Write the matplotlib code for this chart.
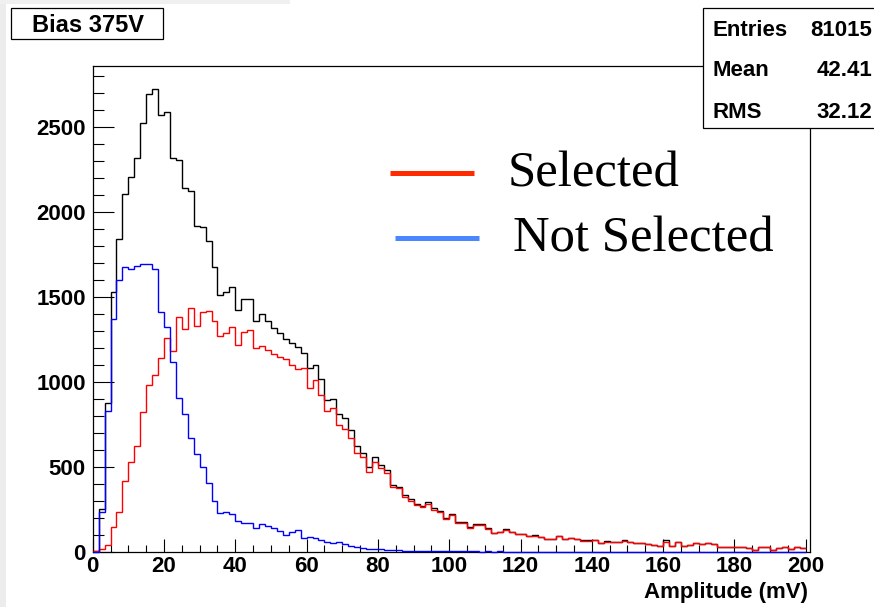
import numpy as np
import matplotlib.pyplot as plt
from matplotlib.patches import Rectangle
from matplotlib.lines import Line2D
from matplotlib.ticker import MultipleLocator

# histogram: 120 bins from 0 to 200 mV
x_min, x_max, n_bins = 0, 200, 120

# all events (black)
total = [5, 252, 875, 1528, 1839, 2104, 2204, 2316, 2525, 2694,
         2724, 2571, 2590, 2320, 2304, 2139, 2124, 1920, 1914, 1829,
         1678, 1512, 1528, 1557, 1424, 1486, 1486, 1361, 1400, 1361,
         1316, 1290, 1251, 1227, 1208, 1170, 1080, 1100, 1016, 894,
         898, 812, 786, 718, 624, 584, 502, 561, 509, 480,
         397, 382, 334, 310, 282, 271, 292, 257, 243, 198,
         223, 178, 178, 145, 165, 165, 139, 114, 120, 135,
         120, 106, 106, 94, 100, 90, 77, 77, 96, 78,
         82, 76, 69, 69, 73, 53, 63, 59, 58, 69,
         58, 53, 52, 46, 43, 38, 71, 36, 58, 35,
         42, 53, 46, 53, 48, 28, 32, 32, 28, 28,
         23, 13, 32, 32, 13, 23, 28, 17, 28, 26]

# selected events (red)
selected = [3, 15, 41, 149, 237, 420, 531, 625, 825, 982,
            1041, 1139, 1257, 1182, 1384, 1310, 1433, 1331, 1410, 1420,
            1359, 1271, 1286, 1322, 1218, 1296, 1306, 1198, 1214, 1188,
            1163, 1145, 1135, 1100, 1075, 1080, 967, 1012, 924, 831,
            845, 747, 722, 669, 580, 557, 473, 531, 492, 467,
            384, 375, 325, 302, 276, 265, 285, 250, 235, 192,
            215, 172, 172, 140, 160, 160, 135, 110, 117, 132,
            117, 104, 104, 92, 97, 88, 75, 75, 94, 76,
            80, 74, 67, 67, 71, 51, 61, 57, 57, 67,
            57, 51, 51, 45, 41, 37, 61, 35, 57, 34,
            41, 51, 45, 51, 47, 27, 31, 31, 27, 27,
            22, 12, 31, 31, 12, 22, 27, 16, 27, 25]

# not selected events (blue)
not_selected = [2, 237, 829, 1370, 1600, 1678, 1665, 1682, 1696, 1696,
                1665, 1414, 1322, 1120, 908, 810, 672, 575, 498, 404,
                299, 231, 235, 224, 182, 171, 172, 139, 165, 155,
                139, 124, 100, 120, 129, 85, 90, 85, 71, 61,
                51, 57, 47, 35, 27, 22, 20, 20, 16, 12,
                12, 10, 8, 8, 6, 6, 5, 5, 4, 4,
                5, 3, 4, 3, 3, 2, 3, 2, 3, 2,
                2, 2, 1, 2, 1, 1, 2, 1, 1, 1,
                0, 1, 1, 0, 1, 0, 1, 0, 0, 1,
                0, 0, 1, 0, 0, 0, 1, 0, 0, 0,
                0, 0, 1, 0, 0, 0, 0, 0, 0, 0,
                0, 0, 1, 0, 0, 0, 0, 0, 0, 0]

stats_labels = ["Entries", "Mean", "RMS"]
stats_values = ["81015", "42.41", "32.12"]
legend_labels = ["Selected", "Not Selected"]

W, H = 874, 607
SANS = "Liberation Sans"
SERIF = "Liberation Serif"


def fx(px):
    return px / W


def fy(py):
    return 1 - py / H


fig = plt.figure(figsize=(W / 100, H / 100), dpi=100)
fig.patch.set_facecolor("white")
# faint grey border of the original screenshot
fig.patches.append(Rectangle((0, 0), fx(6), 1, transform=fig.transFigure,
                             facecolor="#ececec", edgecolor="none", zorder=0))
fig.patches.append(Rectangle((0, fy(4)), fx(290), 4 / H, transform=fig.transFigure,
                             facecolor="#f0f0f0", edgecolor="none", zorder=0))

ax = fig.add_axes([fx(92.7), fy(552), fx(810 - 92.7), (552 - 66) / H])
edges = np.linspace(x_min, x_max, n_bins + 1)
ax.stairs(total, edges, color="black", lw=1.0, baseline=None, zorder=3, clip_on=False)
ax.stairs(selected, edges, color="#ff0000", lw=1.0, baseline=None, zorder=3, clip_on=False)
ax.stairs(not_selected, edges, color="#0000ff", lw=1.0, baseline=None, zorder=3, clip_on=False)

ax.set_xlim(0, 201.2)
ax.set_ylim(0, 2859)
for s in ax.spines.values():
    s.set_linewidth(0.9)

ax.xaxis.set_major_locator(MultipleLocator(20))
ax.xaxis.set_minor_locator(MultipleLocator(5))
ax.yaxis.set_major_locator(MultipleLocator(500))
ax.yaxis.set_minor_locator(MultipleLocator(100))
ax.tick_params(axis="x", which="major", direction="in", length=9.5, width=0.8, pad=3)
ax.tick_params(axis="x", which="minor", direction="in", length=4.7, width=0.8)
ax.tick_params(axis="y", which="major", direction="in", length=15, width=0.8, pad=5)
ax.tick_params(axis="y", which="minor", direction="in", length=8, width=0.8)
for lab in ax.get_xticklabels() + ax.get_yticklabels():
    lab.set_fontfamily(SANS)
    lab.set_fontweight("bold")
    lab.set_fontsize(16)

fig.text(fx(808), fy(598), "Amplitude (mV)", ha="right", va="baseline",
         fontfamily=SANS, fontweight="bold", fontsize=16)

# title box
fig.patches.append(Rectangle((fx(11), fy(39)), fx(152), 31 / H, transform=fig.transFigure,
                             facecolor="white", edgecolor="black", lw=0.9, zorder=5))
fig.text(fx(88), fy(25), "Bias 375V", ha="center", va="center",
         fontfamily=SANS, fontweight="bold", fontsize=17, zorder=6)

# stats box
fig.patches.append(Rectangle((fx(703), fy(128)), fx(200), 120 / H, transform=fig.transFigure,
                             facecolor="white", edgecolor="black", lw=0.9, zorder=5))
for lab, val, yc in zip(stats_labels, stats_values, [30, 70, 112]):
    fig.text(fx(712), fy(yc), lab, ha="left", va="center",
             fontfamily=SANS, fontweight="bold", fontsize=16, zorder=6)
    fig.text(fx(872), fy(yc), val, ha="right", va="center",
             fontfamily=SANS, fontweight="bold", fontsize=16, zorder=6)

# hand-drawn style legend
leg_colors = ["#ff2a00", "#4a86ff"]
leg_lines = [(390, 474, 172.5), (395, 479, 238)]
leg_text = [(507.7, 186.7), (513, 251.7)]
for lab, c, (x0, x1, yl), (xt, yt) in zip(legend_labels, leg_colors, leg_lines, leg_text):
    fig.lines.append(Line2D([fx(x0), fx(x1)], [fy(yl), fy(yl)], transform=fig.transFigure,
                            color=c, lw=3.6, solid_capstyle="butt"))
    fig.text(fx(xt), fy(yt), lab, ha="left", va="baseline",
             fontfamily=SERIF, fontsize=36.5)

fig.savefig("out.png", dpi=100)
